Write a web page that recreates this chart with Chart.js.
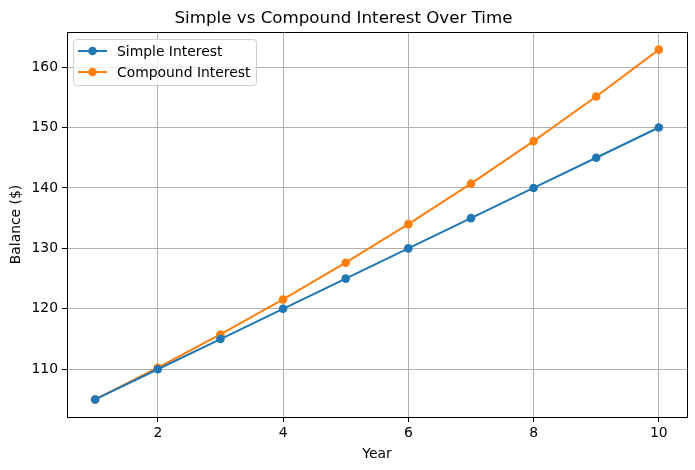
<!DOCTYPE html>
<html>
<head>
<meta charset="utf-8">
<script src="https://cdn.jsdelivr.net/npm/chart.js@4"></script>
<style>
  html, body { margin: 0; padding: 0; background: #fff; }
  #wrap { width: 695px; height: 470px; }
</style>
</head>
<body>
<div id="wrap"><canvas id="grafico" width="695" height="470"></canvas></div>
<script>
// dados
const anos = [1, 2, 3, 4, 5, 6, 7, 8, 9, 10];
const jurosSimples = [105, 110, 115, 120, 125, 130, 135, 140, 145, 150];
const jurosCompostos = [105.0, 110.25, 115.76, 121.55, 127.63, 134.01, 140.71, 147.75, 155.13, 162.89];
const ticksX = [2, 4, 6, 8, 10];
const ticksY = [110, 120, 130, 140, 150, 160];

const fonte = "'DejaVu Sans', sans-serif";

// moldura preta em volta da área do gráfico
const moldura = {
  id: "moldura",
  afterDraw(chart) {
    const { ctx, chartArea: a } = chart;
    ctx.save();
    ctx.strokeStyle = "#000";
    ctx.lineWidth = 1;
    ctx.strokeRect(Math.round(a.left) + 0.5, Math.round(a.top) + 0.5,
      Math.round(a.right - a.left), Math.round(a.bottom - a.top));
    ctx.restore();
  },
};

// legenda dentro do gráfico, canto superior esquerdo
const legendaInterna = {
  id: "legendaInterna",
  afterDraw(chart) {
    const { ctx, chartArea: a } = chart;
    const x0 = a.left + 6, y0 = a.top + 7;
    const w = 183, h = 46;
    ctx.save();
    ctx.fillStyle = "rgba(255,255,255,0.8)";
    ctx.strokeStyle = "#d0d0d0";
    ctx.lineWidth = 1;
    ctx.beginPath();
    ctx.roundRect(x0 + 0.5, y0 + 0.5, w, h, 3);
    ctx.fill();
    ctx.stroke();
    ctx.font = "13.9px " + fonte;
    ctx.textBaseline = "middle";
    chart.data.datasets.forEach((ds, i) => {
      const y = y0 + 12 + i * 21;
      ctx.strokeStyle = ds.borderColor;
      ctx.lineWidth = 2;
      ctx.beginPath();
      ctx.moveTo(x0 + 5, y);
      ctx.lineTo(x0 + 34, y);
      ctx.stroke();
      ctx.fillStyle = ds.borderColor;
      ctx.beginPath();
      ctx.arc(x0 + 19.5, y, 4.3, 0, Math.PI * 2);
      ctx.fill();
      ctx.fillStyle = "#000";
      ctx.fillText(ds.label, x0 + 44, y + 1);
    });
    ctx.restore();
  },
};

new Chart(document.getElementById("grafico"), {
  type: "line",
  data: {
    datasets: [
      {
        label: "Simple Interest",
        data: anos.map((a, i) => ({ x: a, y: jurosSimples[i] })),
        borderColor: "#1f77b4",
        backgroundColor: "#1f77b4",
        borderWidth: 2,
        pointRadius: 4.3,
        pointHoverRadius: 4.3,
        pointBorderWidth: 0,
        tension: 0,
      },
      {
        label: "Compound Interest",
        data: anos.map((a, i) => ({ x: a, y: jurosCompostos[i] })),
        borderColor: "#ff7f0e",
        backgroundColor: "#ff7f0e",
        borderWidth: 2,
        pointRadius: 4.3,
        pointHoverRadius: 4.3,
        pointBorderWidth: 0,
        tension: 0,
      },
    ],
  },
  options: {
    responsive: false,
    animation: false,
    devicePixelRatio: 1,
    layout: { padding: { top: 0, right: 8, bottom: 0, left: 0 } },
    plugins: {
      legend: { display: false },
      tooltip: { enabled: false },
      title: {
        display: true,
        text: "Simple vs Compound Interest Over Time",
        color: "#000",
        font: { family: fonte, size: 16.7, weight: "normal", lineHeight: 1.2 },
        padding: { top: 9, bottom: 3 },
      },
    },
    scales: {
      x: {
        type: "linear",
        min: 0.55,
        max: 10.45,
        afterBuildTicks: (s) => { s.ticks = ticksX.map((v) => ({ value: v })); },
        afterFit: (s) => { s.height = 53; },
        grid: { color: "#b0b0b0", lineWidth: 1, tickColor: "#000", tickLength: 5 },
        border: { display: false },
        ticks: { color: "#000", font: { family: fonte, size: 13.9 }, padding: 3, maxRotation: 0 },
        title: {
          display: true,
          text: "Year",
          color: "#000",
          font: { family: fonte, size: 13.9 },
          padding: { top: 0, bottom: 7 },
        },
      },
      y: {
        min: 102.1,
        max: 165.8,
        afterBuildTicks: (s) => { s.ticks = ticksY.map((v) => ({ value: v })); },
        afterFit: (s) => { s.width = 67; },
        grid: { color: "#b0b0b0", lineWidth: 1, tickColor: "#000", tickLength: 5 },
        border: { display: false },
        ticks: { color: "#000", font: { family: fonte, size: 13.9 }, padding: 4 },
        title: {
          display: true,
          text: "Balance ($)",
          color: "#000",
          font: { family: fonte, size: 13.9 },
          padding: { top: 8, bottom: 0 },
        },
      },
    },
  },
  plugins: [moldura, legendaInterna],
});
</script>
</body>
</html>
